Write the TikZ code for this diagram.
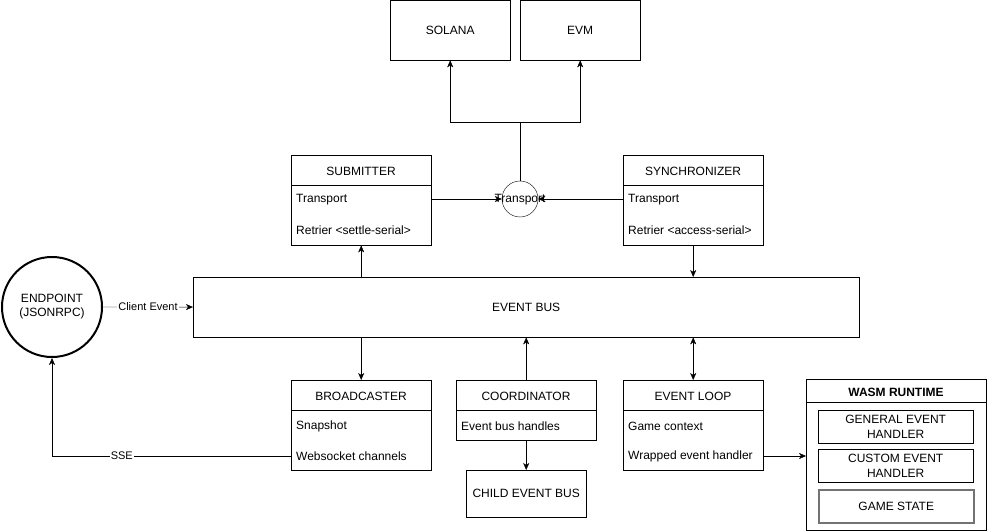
\documentclass[tikz,border=0pt]{standalone}
\usepackage{fontspec}
\setmainfont{Liberation Sans}
\usetikzlibrary{arrows.meta,positioning}

\begin{document}
\begin{tikzpicture}[x=1pt,y=-1pt,
		box/.style={draw, rectangle, anchor=north west, inner sep=0pt, align=center, font=\fontsize{12}{14}\selectfont},
		row/.style={anchor=west, inner sep=0pt, font=\fontsize{12}{14}\selectfont},
		ar/.style={-{Stealth[length=7pt,width=6pt,inset=2pt]}},
		lbl/.style={fill=white, inner sep=1pt, font=\fontsize{11}{13}\selectfont}]
			\useasboundingbox (0,0) rectangle (987,532);
			% chains
			\node[box, minimum width=120, minimum height=60] (sol) at (390,0) {SOLANA};
			\node[box, minimum width=120, minimum height=60] (evm) at (520,0) {EVM};
			\node[circle, draw, minimum size=36, inner sep=0pt] (trans) at (520,199) {};
			\node[row, anchor=center] (transtxt) at (520,200) {Transport};
			% lanes with a header
			\foreach \n/\x/\y/\h/\t in {sub/291/155/90/SUBMITTER, syn/623/155/90/SYNCHRONIZER,
				brd/291/380/90/BROADCASTER, crd/456/380/60/COORDINATOR, loop/623/380/90/EVENT LOOP}
			{
				\node[box, minimum width=140, minimum height=\h] (\n) at (\x,\y) {};
				\node[row, anchor=center] (\n-h) at (\x+70,\y+16) {\t};
				\draw (\x,\y+30) -- ++(140,0);
			}
			\foreach \n/\x/\y/\t in {sub1/296/200/Transport, sub2/296/230/Retrier <settle-serial>,
				syn1/628/200/Transport, syn2/628/230/Retrier <access-serial>,
				brd1/296/426/Snapshot, brd2/296/456/Websocket channels,
				crd1/461/426/Event bus handles,
				loop1/628/426/Game context, loop2/628/456/Wrapped event handler}
				\node[row] (\n) at (\x,\y) {\t};
			\node[box, minimum width=666, minimum height=60] (bus) at (193,277) {EVENT BUS};
			\node[box, minimum width=120, minimum height=47] (child) at (466,470) {CHILD EVENT BUS};
			\node[circle, draw, line width=2pt, minimum size=100, inner sep=0pt, align=center,
				font=\fontsize{12}{14}\selectfont] (ep) at (52,307) {ENDPOINT\\(JSONRPC)};
			% wasm runtime
			\node[box, minimum width=180, minimum height=151] (wasm) at (806,379) {};
			\node[row, anchor=center, font=\fontsize{12}{14}\selectfont\bfseries] (wasm-h) at (896,392) {WASM RUNTIME};
			\draw (806,402) -- (986,402);
			\node[box, minimum width=155, minimum height=33, font=\fontsize{12}{15}\selectfont] (gen) at (818,410) {GENERAL EVENT\\HANDLER};
			\node[box, minimum width=155, minimum height=33, font=\fontsize{12}{15}\selectfont] (cus) at (818,449) {CUSTOM EVENT\\HANDLER};
			\node[box, minimum width=155, minimum height=33, draw=black!55, line width=1.5pt] (gst) at (818,489) {GAME STATE};
			% connectors
			\coordinate (split) at (520,122);
			\draw (trans) -- (split);
			\draw[ar] (split) -| (sol);
			\draw[ar] (split) -| (evm);
			\draw[ar] (sub.east |- trans) -- (trans);
			\draw[ar] (syn.west |- trans) -- (trans);
			\draw[ar] (bus.north -| sub) -- (sub);
			\draw[ar] (syn) -- (syn |- bus.north);
			\draw[ar] (bus.south -| brd) -- (brd);
			\draw[ar] (crd) -- (crd |- bus.south);
			\draw[ar] (crd) -- (child);
			\draw[{Stealth[length=7pt,width=6pt,inset=2pt]}-{Stealth[length=7pt,width=6pt,inset=2pt]}] (bus.south -| loop) -- (loop);
			\draw[ar] (loop.east |- loop2) -- (wasm.west |- loop2);
			\draw[ar] (ep) -- node[lbl] (cev) {Client Event} (bus);
			\draw[ar] (brd.west |- brd2) -| node[lbl, pos=0.354] (sse) {SSE} (ep);
		\end{tikzpicture}
\end{document}
